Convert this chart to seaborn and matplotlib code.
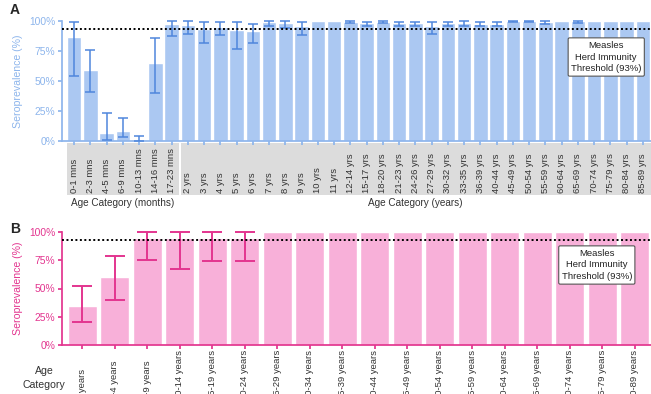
import numpy as np
import pandas as pd
import matplotlib
matplotlib.use("Agg")
import matplotlib.pyplot as plt
import seaborn as sns
from matplotlib.patches import Rectangle
import matplotlib.transforms as mtransforms

# ---------------- data ----------------
a_labels = ["0-1 mns", "2-3 mns", "4-5 mns", "6-9 mns", "10-13 mns", "14-16 mns", "17-23 mns",
            "2 yrs", "3 yrs", "4 yrs", "5 yrs", "6 yrs", "7 yrs", "8 yrs", "9 yrs", "10 yrs", "11 yrs",
            "12-14 yrs", "15-17 yrs", "18-20 yrs", "21-23 yrs", "24-26 yrs", "27-29 yrs", "30-32 yrs",
            "33-35 yrs", "36-39 yrs", "40-44 yrs", "45-49 yrs", "50-54 yrs", "55-59 yrs", "60-64 yrs",
            "65-69 yrs", "70-74 yrs", "75-79 yrs", "80-84 yrs", "85-89 yrs"]
a_values = [87, 59, 7, 8.5, 1, 65, 97.5,
            96.5, 93, 95, 92.5, 92, 99, 98, 96, 100, 100,
            99.5, 98, 99, 98, 98, 95.5, 98,
            98, 97.5, 97.5, 99.7, 99.7, 99, 100,
            99.7, 100, 100, 100, 100]
a_lower = [54, 41, 1, 3, 0, 40, 87.5,
           89, 81.5, 88.5, 77, 82, 95.5, 94, 88, np.nan, np.nan,
           98, 96, 98, 96, 96, 89, 96,
           96, 95.5, 95.5, 99, 99, 97.5, np.nan,
           98.5, np.nan, np.nan, np.nan, np.nan]
a_upper = [99, 76, 23.5, 19, 4, 85.5, 100,
           99.8, 99, 99, 99, 97.5, 100, 100, 99.5, np.nan, np.nan,
           100, 99.5, 100, 99.5, 99.5, 99, 99.5,
           100, 99, 99, 100, 100, 100, np.nan,
           100, np.nan, np.nan, np.nan, np.nan]

b_labels = ["0 years", "1-4 years", "5-9 years", "10-14 years", "15-19 years", "20-24 years",
            "25-29 years", "30-34 years", "35-39 years", "40-44 years", "45-49 years", "50-54 years",
            "55-59 years", "60-64 years", "65-69 years", "70-74 years", "75-79 years", "80-89 years"]
b_values = [34.5, 60.5, 95, 95, 95, 95, 100, 100, 100, 100, 100, 100, 100, 100, 100, 100, 100, 100]
b_lower = [20, 40, 75, 67, 74.5, 74.5] + [np.nan] * 12
b_upper = [52, 79, 100, 100, 100, 100] + [np.nan] * 12

threshold = 93
yticks = [0, 25, 50, 75, 100]
ytick_labels = ["0%", "25%", "50%", "75%", "100%"]
note = "Measles\nHerd Immunity\nThreshold (93%)"

# ---------------- style ----------------
sns.set_theme(style="white")
plt.rcParams['font.family'] = ['Liberation Sans', 'DejaVu Sans']

blue_bar = "#abc8f2"
blue_err = "#4f86dc"
blue_txt = "#8db5ec"
pink_bar = "#f8b0d9"
pink_err = "#e3358f"
pink_txt = "#e3358f"

fig = plt.figure(figsize=(6.51, 3.94), dpi=100)
W, H = 651, 394

def ax_rect(left, right, top, bottom):
    return [left / W, 1 - bottom / H, (right - left) / W, (bottom - top) / H]

axA = fig.add_axes(ax_rect(62, 651, 21, 141))
axB = fig.add_axes(ax_rect(62, 651, 232, 345))

def panel(ax, labels, values, lower, upper, bar_c, err_c, txt_c, capsize, elw):
    df = pd.DataFrame({"cat": labels, "val": values})
    sns.barplot(data=df, x="cat", y="val", order=labels, color=bar_c, saturation=1,
                width=0.9, ax=ax, errorbar=None, zorder=2)
    v = np.array(values, float)
    lo = np.array(lower, float)
    up = np.array(upper, float)
    m = ~np.isnan(lo)
    xs = np.arange(len(labels))[m]
    ax.errorbar(xs, v[m], yerr=[v[m] - lo[m], up[m] - v[m]], fmt="none",
                ecolor=err_c, elinewidth=elw, capsize=capsize, capthick=elw,
                zorder=3, clip_on=False)
    ax.axhline(threshold, color="black", ls=(0, (1, 1.3)), lw=1.4, zorder=4, clip_on=False)
    ax.set_ylim(0, 100)
    ax.set_yticks(yticks)
    ax.set_yticklabels(ytick_labels, color=txt_c, fontsize=7.4)
    ax.set_ylabel("Seroprevalence (%)", color=txt_c, fontsize=7.6, labelpad=4)
    ax.set_xlabel("")
    for s in ["top", "right"]:
        ax.spines[s].set_visible(False)
    ax.spines["left"].set_color(txt_c)
    ax.spines["bottom"].set_color(txt_c)
    ax.tick_params(axis="y", length=3, color=txt_c, pad=2, left=True)
    ax.tick_params(axis="x", length=3, color=txt_c, bottom=True)
    ax.set_xticks(range(len(labels)))
    ax.set_xticklabels([""] * len(labels))

panel(axA, a_labels, a_values, a_lower, a_upper, blue_bar, blue_err, blue_txt, 3.5, 1.1)
panel(axB, b_labels, b_values, b_lower, b_upper, pink_bar, pink_err, pink_txt, 7, 1.4)
axA.set_xlim(-0.75, 35.5)
axB.set_xlim(-0.62, 17.5)

# panel A category boxes and labels
trA = mtransforms.blended_transform_factory(axA.transData, axA.transAxes)
axA.add_patch(Rectangle((-0.45, -0.45), 6.9, 0.435, transform=trA, clip_on=False,
                        facecolor="#dcdcdc", edgecolor="none", zorder=0))
axA.add_patch(Rectangle((6.55, -0.45), 29.0, 0.435, transform=trA, clip_on=False,
                        facecolor="#dcdcdc", edgecolor="none", zorder=0))
for i, lab in enumerate(a_labels):
    axA.text(i, -0.435, lab, transform=trA, rotation=90, ha="center", va="bottom",
             fontsize=6.8, color="#333333", clip_on=False)
axA.text(3.0, -0.52, "Age Category (months)", transform=trA, ha="center", va="center",
         fontsize=7.2, color="#333333")
axA.text(21.0, -0.52, "Age Category (years)", transform=trA, ha="center", va="center",
         fontsize=7.2, color="#333333")

# panel B labels
trB = mtransforms.blended_transform_factory(axB.transData, axB.transAxes)
for i, lab in enumerate(b_labels):
    axB.text(i, -0.487, lab, transform=trB, rotation=90, ha="center", va="bottom",
             fontsize=6.8, color="#333333", clip_on=False)
fig.text(44 / W, 1 - 378 / H, "Age\nCategory", ha="center", va="center", fontsize=7.6,
         color="#333333", linespacing=1.5)

# annotation boxes
box = dict(boxstyle="round,pad=0.3,rounding_size=0.15", facecolor="white", edgecolor="#555555", lw=0.8)
axA.text(0.924, 0.70, note, transform=axA.transAxes, ha="center", va="center", fontsize=6.8,
         color="#222222", bbox=box, zorder=5, linespacing=1.4)
axB.text(0.908, 0.708, note, transform=axB.transAxes, ha="center", va="center", fontsize=6.8,
         color="#222222", bbox=box, zorder=5, linespacing=1.4)

fig.text(10 / W, 1 - 10 / H, "A", fontsize=10, fontweight="bold", va="center", ha="left")
fig.text(10 / W, 1 - 229 / H, "B", fontsize=10, fontweight="bold", va="center", ha="left")

fig.savefig("out.png", dpi=100)
